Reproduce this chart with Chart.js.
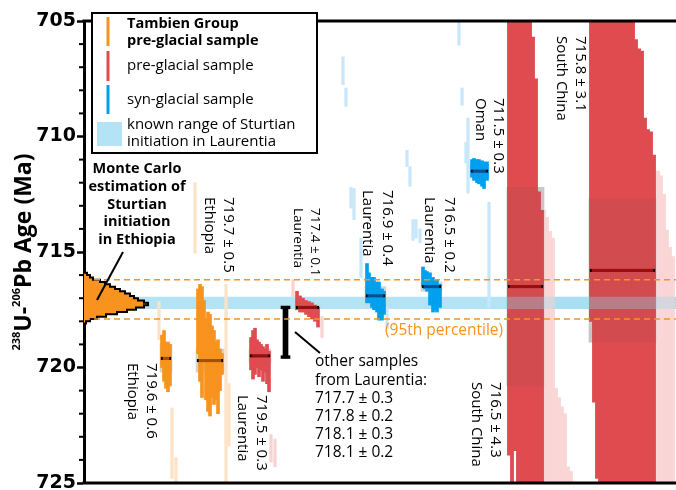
<!DOCTYPE html>
<html>
<head>
<meta charset="utf-8">
<script src="https://cdn.jsdelivr.net/npm/chart.js@4.4.0/dist/chart.umd.min.js"></script>
<style>
  html, body { margin: 0; padding: 0; background: #fff; overflow: hidden; width: 676px; height: 490px; }
  canvas { display: block; }
</style>
</head>
<body>
<canvas id="age-chart" width="676" height="500"></canvas>
<script>
// x = slot of the analysis along the (unlabelled) horizontal axis, ages in Ma
// each row: [slot, younger edge, older edge]
const tambienA = [[78, 718.6, 720.0], [80, 718.4, 720.6], [82, 718.9, 720.9], [84, 718.9, 721.05], [86, 719.0, 720.8]];
const tambienB = [[114, 716.6, 719.4], [116, 716.4, 720.6], [118, 716.5, 721.3], [120, 717.1, 719.7], [122, 717.9, 721.4],
  [124, 717.6, 721.9], [126, 717.7, 722.1], [128, 718.2, 721.3], [130, 718.4, 721.6], [132, 718.9, 721.4],
  [134, 718.8, 722.0], [136, 719.2, 721.0], [138, 719.4, 720.3]];
const laurentiaA = [[167, 718.7, 720.1], [169, 718.4, 720.5], [171, 718.3, 720.3], [173, 718.8, 720.0], [175, 718.9, 720.4],
  [177, 719.0, 720.1], [179, 719.1, 720.6], [181, 719.2, 720.2], [183, 719.0, 720.7], [185, 719.3, 721.05]];
const laurentiaB = [[213, 716.7, 717.5], [216, 716.9, 717.6], [219, 717.0, 717.6], [222, 717.1, 717.7], [225, 717.15, 717.8],
  [228, 717.2, 717.9], [231, 717.3, 718.0], [234, 717.4, 718.25]];
const laurentiaC = [[283, 715.5, 717.2], [285, 715.9, 717.2], [288, 716.1, 717.4], [290, 716.1, 717.5], [293, 716.3, 717.6],
  [295, 716.3, 717.95], [298, 716.6, 717.95], [300, 716.7, 717.7]];
const laurentiaD = [[339, 715.65, 716.5], [341, 715.8, 716.6], [343, 715.85, 716.7], [346, 715.9, 717.3], [349, 716.1, 717.6],
  [351, 716.2, 717.5], [353, 716.2, 717.6], [356, 716.4, 717.4]];
const oman = [[388, 711.0, 711.75], [390, 710.95, 711.9], [393, 711.0, 712.0], [395, 711.0, 712.05], [398, 711.05, 712.15],
  [400, 711.1, 712.25], [403, 711.1, 711.9]];
const chinaA = [[425, 700, 723.8], [428, 700, 730], [431, 700, 723.6], [434, 700, 730], [437, 700, 730], [440, 700, 730],
  [443, 700, 730], [446, 700, 730], [449, 705.7, 730], [452, 707.5, 730], [455, 712.4, 730], [458, 713.2, 730]];
const chinaB = [[507, 700, 718.0], [510, 700, 721.5], [513, 700, 724.8], [516, 700, 730], [519, 700, 730], [522, 700, 730],
  [525, 700, 730], [528, 700, 730], [531, 700, 730], [534, 700, 730], [537, 700, 730], [540, 700, 730], [543, 700, 730],
  [546, 700, 730], [549, 700, 730], [552, 705.8, 730], [555, 706.2, 730], [558, 706.3, 730], [561, 709.2, 730],
  [564, 709.7, 730], [567, 709.8, 730], [570, 710.8, 730]];

// analyses left out of the weighted means
const fadedOrange = [[75, 717.15, 718.8], [88, 721.75, 724.8], [92, 723.9, 726], [111, 712.0, 715.05], [142, 716.4, 726], [145, 720.7, 723.4]];
const fadedRed = [[187, 722.9, 724.1], [191, 723.1, 724.3], [209, 716.2, 716.95], [238, 717.8, 718.7]];
const fadedBlue = [[259, 706.55, 707.75], [262, 707.9, 708.7], [267, 712.2, 713.1], [270, 712.25, 713.6], [277, 714.4, 716.1],
  [303, 717.4, 718.3], [323, 710.6, 711.3], [326, 711.3, 712.15], [329, 713.6, 714.5], [332, 713.6, 714.4], [336, 714.0, 714.6],
  [375, 705.0, 706.05], [378, 707.9, 708.65], [382, 710.25, 711.15], [384, 709.2, 712.45], [405, 712.85, 717.4]];
const fadedChina = [[460, 713.2, 730], [463, 713.5, 730], [466, 714.1, 730], [469, 714.4, 730], [472, 720.9, 730], [475, 721.3, 730],
  [478, 721.7, 730], [481, 722.0, 730], [484, 724.3, 730], [487, 724.5, 730],
  [574, 711.5, 730], [577, 711.7, 730], [580, 712.5, 730], [583, 714.05, 730], [586, 714.8, 730], [589, 715.2, 730]];

// weighted means (Ma) and their uncertainty, same order as the groups below
const groupMeans = [719.6, 719.7, 719.5, 717.4, 716.9, 716.5, 711.5, 716.5, 715.8];
const groupErrors = [0.6, 0.5, 0.3, 0.1, 0.4, 0.2, 0.3, 4.3, 3.1];
const groupLabels = [
  ['719.6 ± 0.6', 'Ethiopia'], ['719.7 ± 0.5', 'Ethiopia'], ['719.5 ± 0.3', 'Laurentia'], ['717.4 ± 0.1', 'Laurentia'],
  ['716.9 ± 0.4', 'Laurentia'], ['716.5 ± 0.2', 'Laurentia'], ['711.5 ± 0.3', 'Oman'], ['716.5 ± 4.3', 'South China'],
  ['715.8 ± 3.1', 'South China']];

// Monte Carlo estimate of Sturtian initiation in Ethiopia (histogram)
const mcBinEdges = [715.8, 715.9, 716.0, 716.1, 716.2, 716.3, 716.4, 716.5, 716.6, 716.7, 716.8, 716.9, 717.0,
  717.1, 717.2, 717.3, 717.4, 717.5, 717.6, 717.7, 717.8, 717.9, 718.0, 718.1, 718.2];
const mcCounts = [1, 3, 6, 9, 16, 21, 26, 31, 36, 41, 46, 50, 54, 60, 64, 60, 52, 43, 33, 22, 13, 6, 2, 1];
const mcPercentile95 = [716.2, 717.9];
const sturtianLaurentia = [716.95, 717.45];

// other samples from Laurentia
const otherRange = [717.4, 719.55];
const otherSlot = 201.5;
const otherAges = ['717.7 ± 0.3', '717.8 ± 0.2', '718.1 ± 0.3', '718.1 ± 0.2'];

const ORANGE = '#f7931e', RED = '#df4c50', BLUE = '#00a0ee', BAND = '#b3e3f4';

const groups = [
  { rows: tambienA, color: ORANGE, dark: '#a65100' },
  { rows: tambienB, color: ORANGE, dark: '#a65100' },
  { rows: laurentiaA, color: RED, dark: '#8e1010' },
  { rows: laurentiaB, color: RED, dark: '#8e1010' },
  { rows: laurentiaC, color: BLUE, dark: '#00518c' },
  { rows: laurentiaD, color: BLUE, dark: '#00518c' },
  { rows: oman, color: BLUE, dark: '#00518c' },
  { rows: chinaA, color: RED, dark: '#9a0e0e', wide: true },
  { rows: chinaB, color: RED, dark: '#9a0e0e', wide: true },
];

const X_MAX = 592; // slots; one slot per screen pixel of the plot width

function bars(rows, color, thickness, order) {
  return {
    type: 'bar', grouped: false, order,
    data: rows.map(r => ({ x: r[0], y: [r[1], r[2]] })),
    backgroundColor: color, barThickness: thickness, borderWidth: 0,
  };
}

const datasets = [];

// known range of Sturtian initiation in Laurentia
datasets.push(bars([[X_MAX / 2, sturtianLaurentia[0], sturtianLaurentia[1]]], BAND, X_MAX, 20));

// 95th percentile dashed lines
mcPercentile95.forEach(v => datasets.push({
  type: 'line', order: 0.5,
  data: [{ x: 0, y: v }, { x: X_MAX, y: v }],
  borderColor: ORANGE, borderWidth: 1.5, borderDash: [6, 4], pointRadius: 0,
}));

let wideFrom = X_MAX;
groups.forEach((g, i) => {
  const xs = g.rows.map(r => r[0]);
  const lo = Math.min(...xs), hi = Math.max(...xs);
  const m = groupMeans[i], e = groupErrors[i];
  if (g.wide) wideFrom = Math.min(wideFrom, lo - 3);
  // grey box of the weighted mean uncertainty
  datasets.push(bars([[(lo + hi) / 2, m - e, m + e]], '#d3d3d3', hi - lo + 4, 15));
  datasets.push(bars(g.rows, g.color, g.wide ? 3.2 : 3, g.wide ? 14 : 6));
  if (g.wide) datasets.push(bars([[(lo + hi) / 2, m - e, m + e]], 'rgba(70,70,70,0.08)', hi - lo + 4, 5));
  datasets.push(Object.assign(bars([[(lo + hi) / 2, m - 0.07, m + 0.07]], g.dark, hi - lo + 2, 3), {
    borderColor: '#000', borderWidth: { left: 2, right: 2, top: 0, bottom: 0 }, borderSkipped: false,
  }));
});

datasets.push(bars(fadedOrange, '#fde3c6', 2.6, 16));
datasets.push(bars(fadedRed, '#f9d2d2', 2.6, 16));
datasets.push(bars(fadedBlue, '#c9e7fa', 2.6, 16));
datasets.push(bars(fadedChina, '#fad6d6', 3.1, 16));

// the Laurentia band shows faintly through the South China analyses
datasets.push(bars([[(wideFrom + X_MAX) / 2, sturtianLaurentia[0], sturtianLaurentia[1]]], 'rgba(150,215,240,0.35)',
  X_MAX - wideFrom, 4));

// histogram as a stepped closed outline
const mcPoints = [{ x: 0, y: mcBinEdges[0] }];
mcCounts.forEach((c, i) => mcPoints.push({ x: c, y: mcBinEdges[i + 1] }));
mcPoints.push({ x: 0, y: mcBinEdges[mcBinEdges.length - 1] });
datasets.push({
  type: 'line', order: 2, data: mcPoints, stepped: true, fill: 'shape',
  backgroundColor: '#f7931e', borderColor: '#000', borderWidth: 2, pointRadius: 0,
});

// range bar for the other Laurentia samples
datasets.push(bars([[otherSlot, otherRange[0], otherRange[1]]], '#000', 5, 1));
datasets.push(bars([[otherSlot, otherRange[0] - 0.06, otherRange[0] + 0.06]], '#000', 9, 1));
datasets.push(bars([[otherSlot, otherRange[1] - 0.06, otherRange[1] + 0.06]], '#000', 9, 1));

// rotated sample labels: [x of first line, top y, line gap, font size]
const labelSpots = [[151, 363, 19, 15], [228, 197, 19, 15], [261, 395, 19, 15], [315, 208, 17, 13.5],
  [387, 190, 20, 15], [449, 197, 20, 15], [498, 98, 18, 15], [495, 382, 19, 15], [580, 36, 19, 15]];

const annotate = {
  id: 'annotate',
  afterDatasetsDraw(chart) {
    const { ctx, chartArea: a, scales: { y } } = chart;
    ctx.save();
    ctx.strokeStyle = '#000';
    ctx.lineWidth = 3;
    ctx.beginPath();
    ctx.moveTo(a.left - 1.5, a.top); ctx.lineTo(a.right, a.top);
    ctx.moveTo(a.left - 1.5, a.bottom); ctx.lineTo(a.right, a.bottom);
    ctx.stroke();

    // minor ticks
    ctx.lineWidth = 2;
    for (let v = 706; v < 725; v++) {
      if (v % 5 === 0) continue;
      const py = y.getPixelForValue(v);
      ctx.beginPath(); ctx.moveTo(a.left - 5, py); ctx.lineTo(a.left, py); ctx.stroke();
    }

    // y axis title with superscripts
    const parts = [['238', true], ['U-', false], ['206', true], ['Pb Age (Ma)', false]];
    const big = 'bold 23px "Open Sans"', small = 'bold 11px "Open Sans"';
    let total = 0;
    parts.forEach(p => { ctx.font = p[1] ? small : big; total += ctx.measureText(p[0]).width; });
    ctx.save();
    ctx.translate(31, 252);
    ctx.rotate(-Math.PI / 2);
    ctx.fillStyle = '#000';
    ctx.textBaseline = 'alphabetic';
    let cx = -total / 2;
    parts.forEach(p => {
      ctx.font = p[1] ? small : big;
      ctx.fillText(p[0], cx, p[1] ? -11 : 0);
      cx += ctx.measureText(p[0]).width;
    });
    ctx.restore();

    // rotated group labels
    ctx.fillStyle = '#000';
    groupLabels.forEach((lines, i) => {
      const [px, py, gap, size] = labelSpots[i];
      ctx.save();
      ctx.translate(px, py);
      ctx.rotate(Math.PI / 2);
      ctx.font = size + 'px "Open Sans"';
      ctx.textBaseline = 'middle';
      ctx.textAlign = 'left';
      lines.forEach((t, k) => ctx.fillText(t, 0, k * gap));
      ctx.restore();
    });

    // Monte Carlo caption and pointer
    ctx.font = 'bold 14.5px "Open Sans"';
    ctx.textAlign = 'center';
    ctx.textBaseline = 'middle';
    ['Monte Carlo', 'estimation of', 'Sturtian', 'initiation', 'in Ethiopia'].forEach((t, k) => ctx.fillText(t, 137, 169 + k * 17.7));
    ctx.lineWidth = 2;
    ctx.beginPath(); ctx.moveTo(123, 252); ctx.lineTo(97, 300); ctx.stroke();

    // other samples caption and pointer
    ctx.beginPath(); ctx.moveTo(295, 332); ctx.lineTo(320, 353); ctx.stroke();
    ctx.font = '15.5px "Open Sans"';
    ctx.textAlign = 'left';
    ['other samples', 'from Laurentia:'].concat(otherAges).forEach((t, k) => ctx.fillText(t, 315, 362 + k * 18.1));

    ctx.fillStyle = ORANGE;
    ctx.fillText('(95th percentile)', 385, 331);

    // legend box
    ctx.fillStyle = '#fff';
    ctx.fillRect(92, 13, 225, 140);
    ctx.strokeStyle = '#000';
    ctx.lineWidth = 2;
    ctx.strokeRect(92, 13, 225, 140);
    ctx.lineWidth = 3;
    [[ORANGE, 17, 46], [RED, 51, 81], [BLUE, 85, 114]].forEach(([c, t, b]) => {
      ctx.strokeStyle = c;
      ctx.beginPath(); ctx.moveTo(108, t); ctx.lineTo(108, b); ctx.stroke();
    });
    ctx.fillStyle = BAND;
    ctx.fillRect(97, 122, 25, 24);
    ctx.fillStyle = '#000';
    ctx.font = 'bold 14.5px "Open Sans"';
    ctx.fillText('Tambien Group', 127, 24);
    ctx.fillText('pre-glacial sample', 127, 41);
    ctx.font = '15px "Open Sans"';
    ctx.fillText('pre-glacial sample', 127, 66);
    ctx.fillText('syn-glacial sample', 127, 100);
    ctx.fillText('known range of Sturtian', 127, 125);
    ctx.fillText('initiation in Laurentia', 127, 142);
    ctx.restore();
  }
};

new Chart(document.getElementById('age-chart'), {
  type: 'bar',
  data: { datasets },
  options: {
    responsive: false,
    animation: false,
    layout: { padding: { top: 21, right: 0, bottom: 17, left: 0 } },
    plugins: { legend: { display: false }, tooltip: { enabled: false } },
    scales: {
      x: { type: 'linear', min: 0, max: X_MAX, offset: false, display: false },
      y: {
        type: 'linear', min: 705, max: 725, reverse: true,
        ticks: { stepSize: 5, color: '#000', padding: 1, font: { family: 'DejaVu Sans', weight: 'bold', size: 19 } },
        grid: { drawOnChartArea: false, drawTicks: true, tickLength: 7, tickWidth: 2.5, tickColor: '#000' },
        border: { display: true, color: '#000', width: 3 },
        afterFit(scale) { scale.width = 84; },
      },
    },
  },
  plugins: [annotate],
});
</script>
</body>
</html>
